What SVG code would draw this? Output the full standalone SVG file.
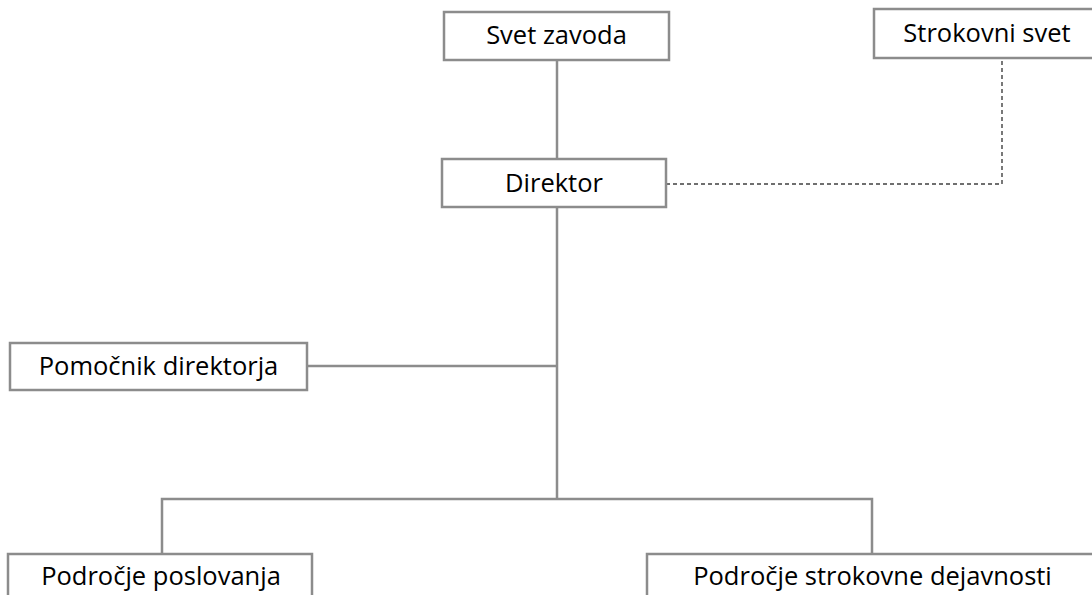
<svg xmlns="http://www.w3.org/2000/svg" width="1092" height="595" viewBox="0 0 1092 595">
<style>
.box{fill:#fff;stroke:#8c8c8c;stroke-width:2.5}
.lbl{font-family:"Open Sans","Liberation Sans",sans-serif;font-size:25.5px;fill:#000;text-anchor:middle}
.ln{fill:none;stroke:#8c8c8c;stroke-width:2.5}
.dash{fill:none;stroke:#404040;stroke-width:1.4;stroke-dasharray:4 3}
</style>
<rect width="1092" height="595" fill="#fff"/>
<g id="connectors">
<line class="ln" x1="557" y1="60" x2="557" y2="159"/>
<line class="ln" x1="557" y1="207" x2="557" y2="499"/>
<line class="ln" x1="307" y1="366" x2="557" y2="366"/>
<polyline class="ln" points="162,554 162,499 872,499 872,554"/>
<polyline class="dash" points="666,184 1002,184 1002,58"/>
</g>
<g id="svet-zavoda">
<rect class="box" x="444" y="12" width="225" height="48"/>
<text class="lbl" x="556.5" y="44">Svet zavoda</text>
</g>
<g id="strokovni-svet">
<rect class="box" x="874" y="9" width="226" height="49"/>
<text class="lbl" x="987" y="42">Strokovni svet</text>
</g>
<g id="direktor">
<rect class="box" x="442" y="159" width="224" height="48"/>
<text class="lbl" x="554" y="192">Direktor</text>
</g>
<g id="pomocnik">
<rect class="box" x="10" y="343" width="297" height="47"/>
<text class="lbl" x="158.5" y="375">Pomočnik direktorja</text>
</g>
<g id="podrocje-poslovanja">
<rect class="box" x="8" y="554" width="304" height="50"/>
<text class="lbl" x="161" y="585">Področje poslovanja</text>
</g>
<g id="podrocje-strokovne">
<rect class="box" x="647" y="554" width="451" height="50"/>
<text class="lbl" x="872.5" y="585">Področje strokovne dejavnosti</text>
</g>
</svg>
